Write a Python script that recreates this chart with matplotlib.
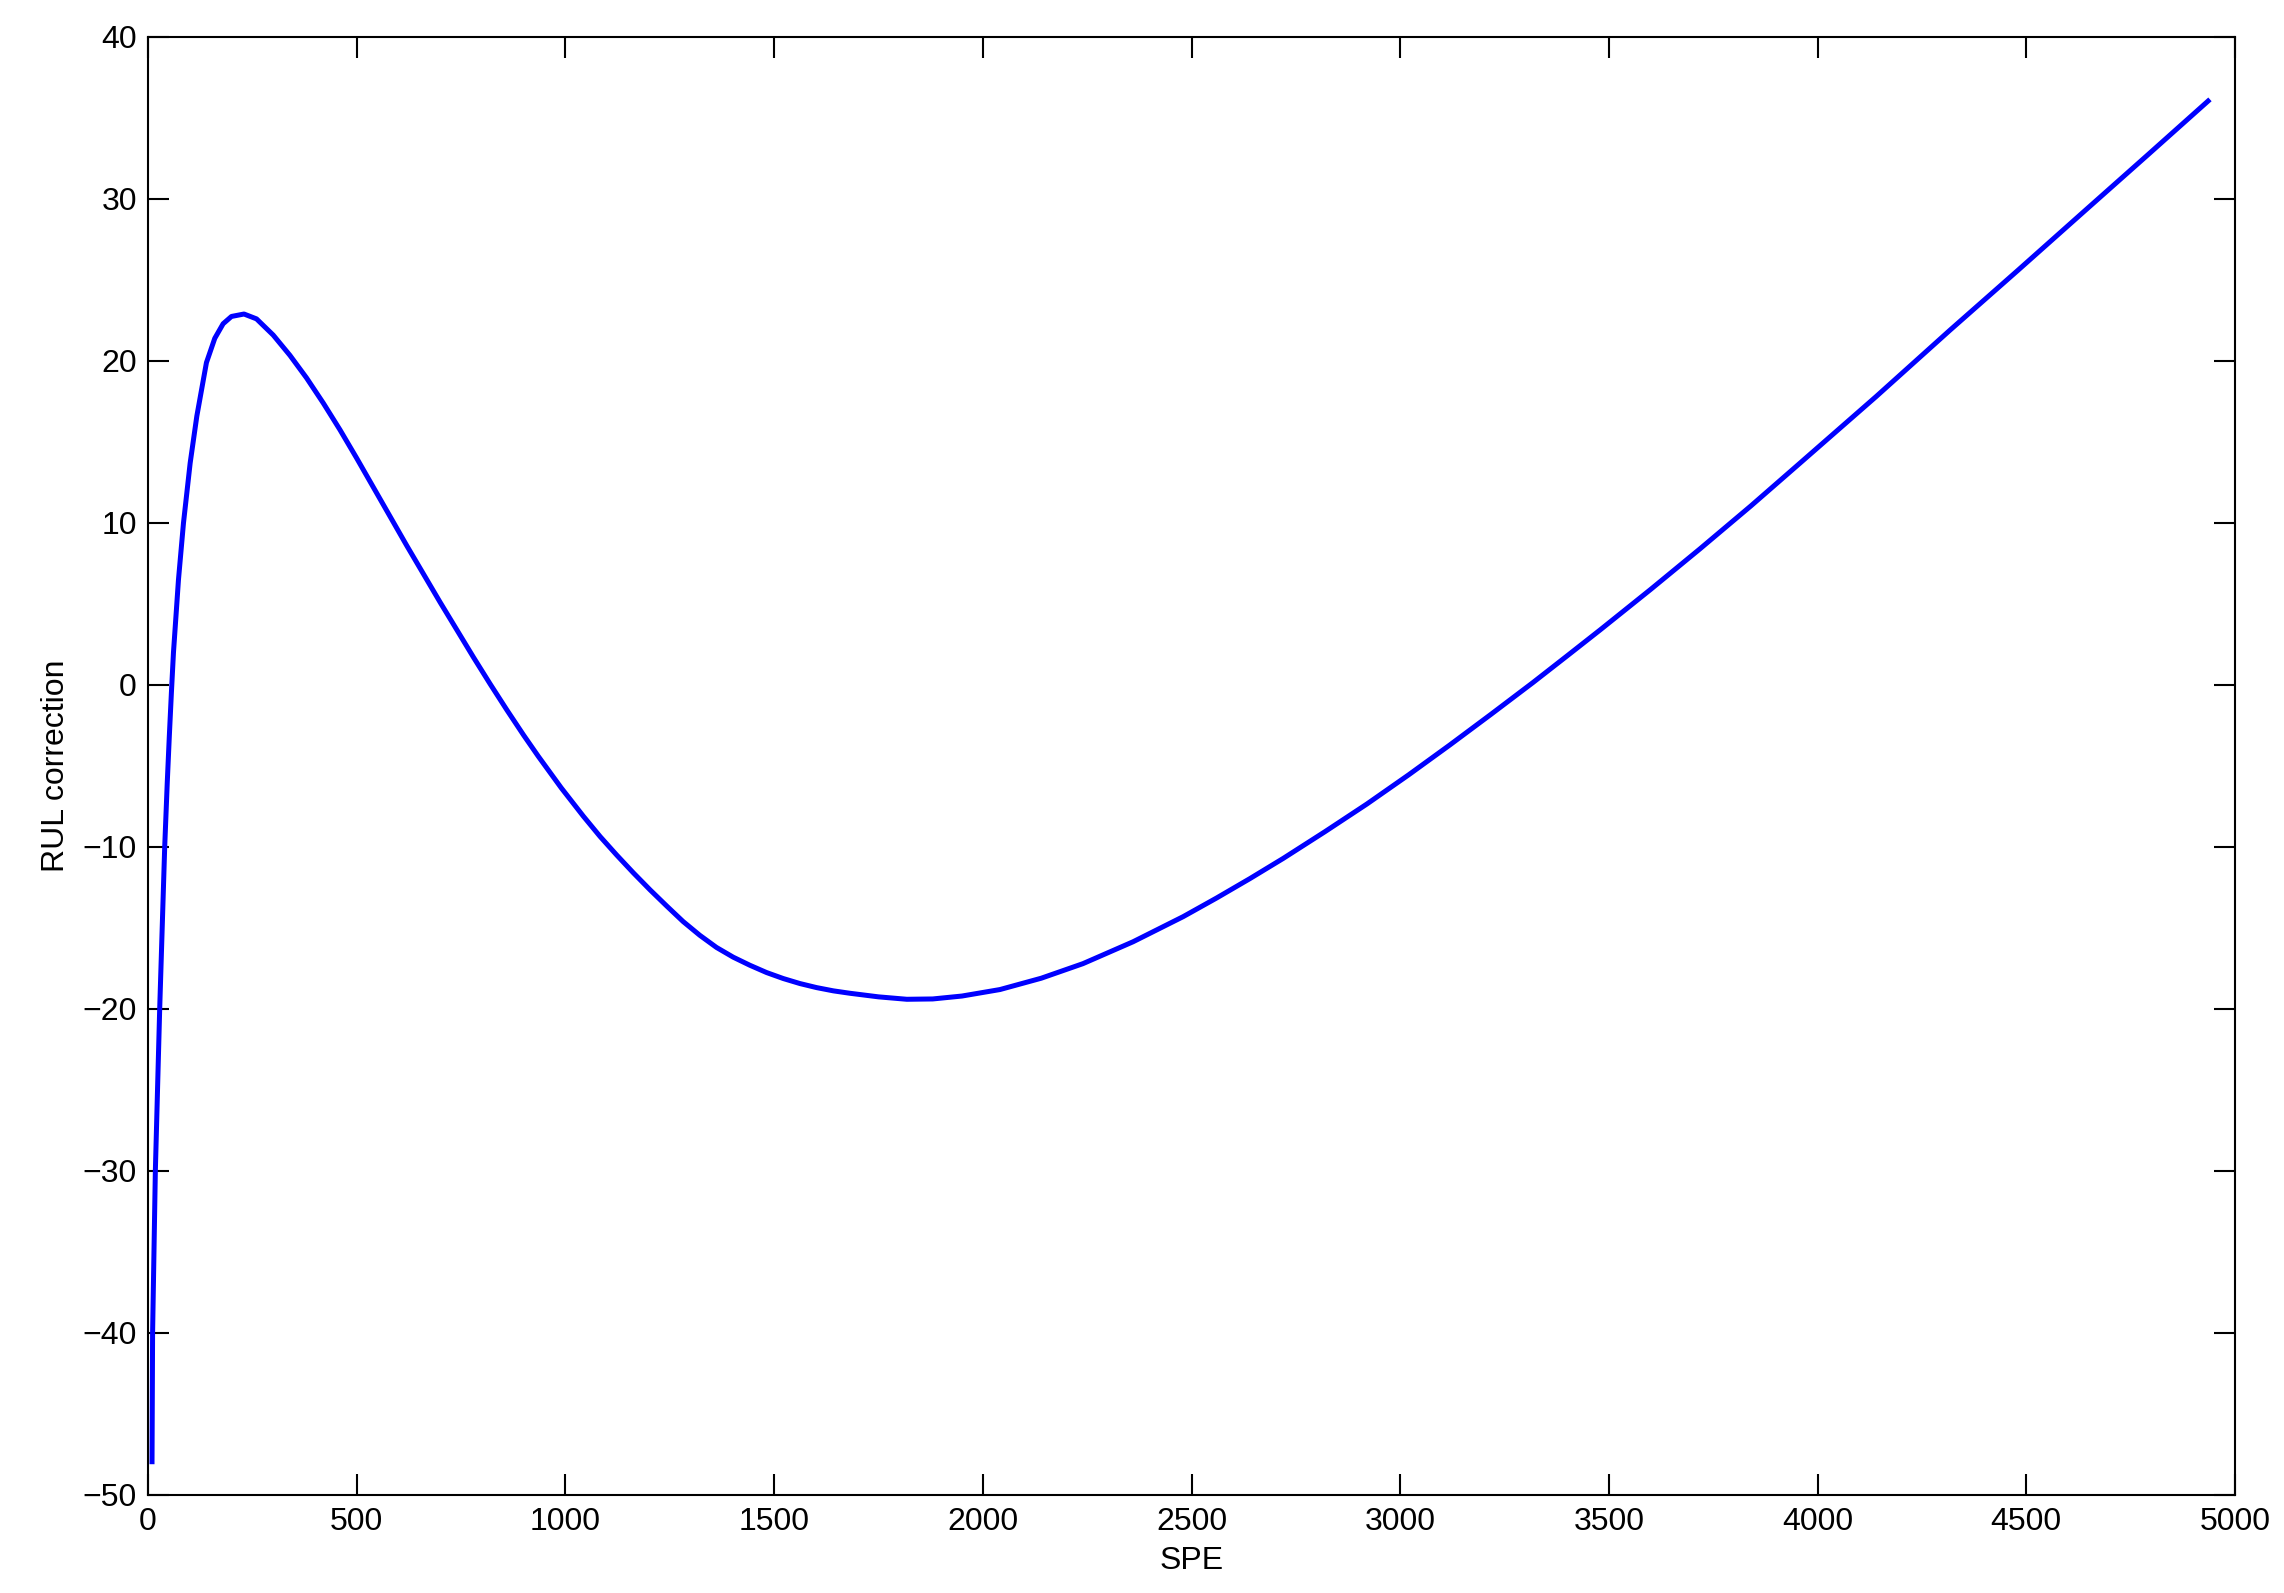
import matplotlib
matplotlib.use("Agg")
import matplotlib.pyplot as plt

# Data
spe = [9.6, 11, 17.6, 28, 40, 46, 51, 56, 61, 73, 85, 101, 117, 140, 160, 180,
       200, 230, 260, 300, 340, 380, 420, 460, 500, 540, 580, 620, 660, 700,
       740, 780, 820, 860, 900, 935, 990, 1043, 1083, 1123, 1163, 1203, 1243,
       1282, 1322, 1362, 1402, 1442, 1482, 1522, 1562, 1602, 1642, 1682, 1750,
       1818, 1880, 1950, 2041, 2140, 2240, 2360, 2480, 2560, 2640, 2720, 2820,
       2920, 3020, 3119, 3218, 3318, 3400, 3479, 3600, 3718, 3840, 3958, 4140,
       4317, 4480, 4637, 4790, 4940]
rul_correction = [-48.1, -40.0, -30.0, -20.0, -10.0, -6.1, -3.2, -0.5, 2.0, 6.5,
                  10.0, 13.7, 16.6, 19.9, 21.4, 22.3, 22.75, 22.9, 22.6, 21.6,
                  20.35, 18.95, 17.4, 15.75, 14.0, 12.2, 10.4, 8.6, 6.85, 5.1,
                  3.4, 1.7, 0.05, -1.55, -3.1, -4.4, -6.35, -8.1, -9.35, -10.5,
                  -11.6, -12.65, -13.65, -14.6, -15.45, -16.2, -16.8, -17.3,
                  -17.75, -18.12, -18.43, -18.68, -18.88, -19.03, -19.25, -19.4,
                  -19.38, -19.2, -18.8, -18.1, -17.2, -15.85, -14.3, -13.15,
                  -11.95, -10.7, -9.05, -7.35, -5.55, -3.7, -1.8, 0.15, 1.8, 3.4,
                  5.9, 8.4, 11.05, 13.7, 17.8, 21.9, 25.6, 29.2, 32.7, 36.15]

x_ticks = [0, 500, 1000, 1500, 2000, 2500, 3000, 3500, 4000, 4500, 5000]
y_ticks = [-50, -40, -30, -20, -10, 0, 10, 20, 30, 40]
x_label = "SPE"
y_label = "RUL correction"

plt.rcParams['font.family'] = ['Liberation Sans', 'DejaVu Sans']
plt.rcParams['axes.unicode_minus'] = True

fig = plt.figure(figsize=(22.84, 15.93), dpi=100)
ax = fig.add_axes([148 / 2284, 1 - 1495 / 1593, (2235 - 148) / 2284, (1495 - 37) / 1593])

ax.plot(spe, rul_correction, color='#0000ff', linewidth=3.6,
        solid_joinstyle='round', solid_capstyle='butt')

ax.set_xlim(0, 5000)
ax.set_ylim(-50, 40)
ax.set_xticks(x_ticks)
ax.set_yticks(y_ticks)
ax.set_yticklabels([str(v).replace('-', '\u2212') for v in y_ticks])

for s in ax.spines.values():
    s.set_linewidth(1.5)
    s.set_color('black')

ax.tick_params(axis='both', which='major', direction='in', length=15, width=1.5,
               labelsize=23, top=True, right=True, color='black')
ax.tick_params(axis='x', pad=9)
ax.tick_params(axis='y', pad=8)

ax.set_xlabel(x_label, fontsize=23, labelpad=6)
ax.set_ylabel(y_label, fontsize=23, labelpad=8)

fig.savefig("out.png", dpi=100, facecolor='white')
